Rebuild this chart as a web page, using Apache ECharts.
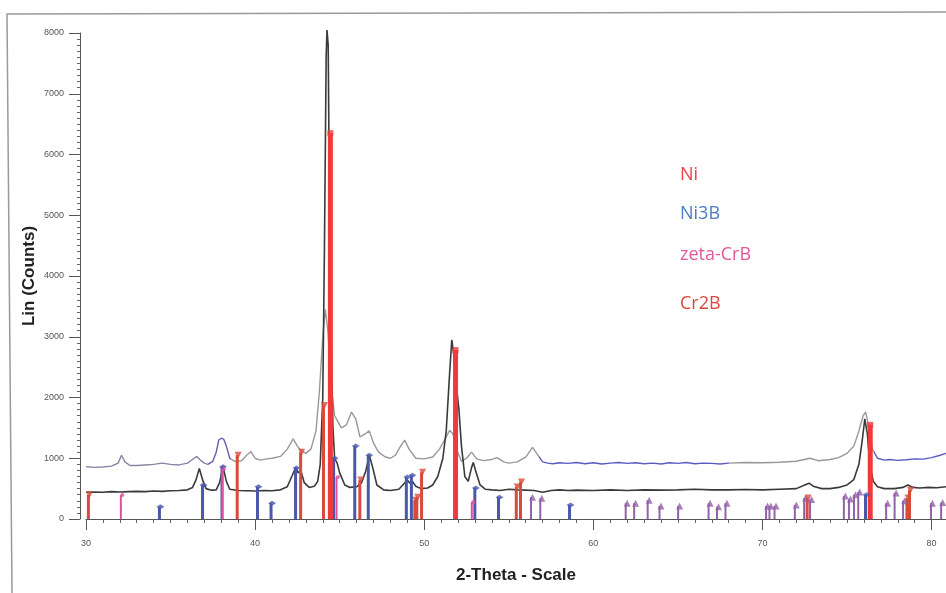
<!DOCTYPE html>
<html>
<head>
<meta charset="utf-8">
<script src="https://cdn.jsdelivr.net/npm/echarts@6/dist/echarts.min.js"></script>
<style>
html,body{margin:0;padding:0;background:#fff;}
#chart{width:946px;height:593px;}
</style>
</head>
<body>
<div id="chart"></div>
<script>
// ---- measured pattern (lower, dark trace) ----
const lowerX = [30.0,30.5,31.0,31.5,32.0,32.5,33.0,33.5,34.0,34.5,35.0,35.5,36.0,36.3,36.5,36.7,36.9,37.1,37.4,37.7,37.9,38.1,38.3,38.5,39.0,39.5,40.0,40.5,41.0,41.5,41.9,42.2,42.4,42.55,42.7,42.9,43.2,43.5,43.7,43.85,44.0,44.1,44.2,44.25,44.32,44.4,44.5,44.6,44.7,44.85,45.0,45.3,45.6,46.0,46.3,46.55,46.75,46.95,47.2,47.6,48.0,48.5,48.8,49.0,49.15,49.3,49.5,49.8,50.2,50.5,50.8,51.1,51.3,51.5,51.63,51.75,51.9,52.05,52.2,52.4,52.6,52.8,52.9,53.05,53.3,53.6,54.0,54.5,55.0,55.5,56.0,56.5,57.0,57.5,58.0,58.5,59.0,60.0,61.0,62.0,63.0,64.0,65.0,66.0,67.0,68.0,69.0,70.0,71.0,72.0,72.5,72.75,73.0,73.5,74.0,74.5,75.0,75.4,75.7,75.9,76.05,76.2,76.35,76.55,76.8,77.2,77.8,78.3,78.6,78.9,79.3,79.8,80.3,80.85];
const lowerY = [440,445,440,450,445,450,455,450,460,455,465,470,480,520,640,830,640,500,475,480,600,860,620,490,470,465,460,470,465,480,530,720,850,760,800,600,520,540,620,900,2000,4500,7600,8050,7800,5000,2800,1500,1000,920,760,560,520,530,600,800,1050,850,560,480,470,490,580,640,590,620,540,500,510,560,700,1000,1450,2400,2950,2700,2200,1800,1200,700,620,850,930,780,560,490,480,470,490,480,475,470,440,470,480,470,475,470,480,470,480,475,480,490,480,480,485,480,490,500,560,590,540,500,500,520,560,650,900,1300,1650,1400,900,620,530,500,500,520,560,520,510,520,515,530];

// ---- measured pattern (upper trace) ----
const upperX = [30.0,30.5,31.0,31.5,31.9,32.1,32.3,32.6,33.0,33.5,34.0,34.5,35.0,35.5,36.0,36.3,36.55,36.8,37.0,37.2,37.5,37.7,37.85,38.0,38.15,38.3,38.5,38.8,39.2,39.5,39.75,40.0,40.3,40.7,41.0,41.5,41.9,42.25,42.5,42.7,43.0,43.3,43.6,43.8,44.0,44.15,44.3,44.5,44.7,44.9,45.1,45.4,45.7,45.95,46.2,46.5,46.75,47.0,47.3,47.7,48.0,48.3,48.6,48.85,49.1,49.5,50.0,50.5,50.9,51.2,51.5,51.7,51.9,52.2,52.5,52.8,53.1,53.5,54.0,54.3,54.7,55.0,55.5,56.0,56.4,56.7,57.0,57.3,57.6,58.0,58.5,59.0,59.5,60.0,60.5,61.0,61.5,62.0,62.5,63.0,63.5,64.0,64.5,65.0,65.5,66.0,66.5,67.0,67.5,68.0,69.0,70.0,71.0,72.0,72.8,73.3,74.0,74.5,75.0,75.4,75.7,75.95,76.1,76.3,76.5,76.8,77.2,77.5,78.0,78.5,79.0,79.5,80.0,80.5,80.85];
const upperY = [860,850,855,870,920,1050,940,880,880,890,900,920,900,890,920,980,1030,960,920,900,950,1100,1300,1330,1310,1200,1000,950,960,1050,1110,1000,970,990,1000,1030,1150,1320,1200,1130,1080,1150,1450,2100,3000,3450,3100,2200,1700,1600,1500,1550,1760,1650,1350,1400,1450,1250,1100,1020,1000,1050,1200,1300,1150,1000,990,1020,1150,1300,1460,1400,1150,950,1000,1100,990,960,980,1010,940,920,940,1020,1180,1060,940,920,910,925,915,930,910,925,905,920,930,915,925,910,920,905,925,915,930,910,920,915,905,920,930,925,935,950,1000,960,980,1010,1080,1200,1450,1700,1760,1500,1150,1000,970,980,965,975,990,985,1010,1050,1080];

// ---- reference sticks ----
const niPos = [44.45, 51.85, 76.37];
const niH = [6350, 2780, 1550];
const ni3bPos = [34.4, 36.95, 38.1, 40.2, 41.0, 42.45, 44.7, 45.95, 46.75, 49.0, 49.3, 53.05, 54.45, 58.65, 76.15];
const ni3bH = [200, 560, 860, 530, 260, 840, 1000, 1200, 1050, 690, 720, 510, 360, 230, 400];
const zetaPos = [32.15, 38.15, 44.9, 52.9];
const zetaH = [395, 820, 690, 280];
const cr2bPos = [30.2, 39.0, 42.75, 44.1, 46.25, 49.5, 49.62, 49.9, 55.5, 55.75, 72.7, 78.6, 78.75];
const cr2bH = [395, 1050, 1100, 1870, 640, 310, 360, 770, 525, 610, 345, 345, 475];
const otherPos = [56.4, 56.95, 62.0, 62.5, 63.3, 64.0, 65.1, 66.9, 67.4, 67.9, 70.3, 70.5, 70.8, 72.0, 72.55, 72.9, 74.9, 75.2, 75.5, 75.75, 77.4, 77.9, 78.4, 80.05, 80.65];
const otherH = [360, 340, 260, 260, 310, 215, 215, 260, 200, 260, 215, 215, 215, 230, 345, 320, 380, 330, 400, 445, 260, 430, 300, 260, 270];

// ---- axis ticks ----
const xTicks = [30, 40, 50, 60, 70, 80];
const yTicks = [0, 1000, 2000, 3000, 4000, 5000, 6000, 7000, 8000];

const legendNames = ['Ni', 'Ni3B', 'zeta-CrB', 'Cr2B'];
const legendColors = ['#ee4040', '#4a7cc0', '#e0589c', '#d8463c'];

function pairs(xs, ys) { return xs.map((x, i) => [x, ys[i]]); }

function stickSeries(name, xs, ys, color, width, symbol, symSize, symRotate) {
  return [
    { name: name, type: 'bar', data: pairs(xs, ys), barWidth: width, barGap: '-100%',
      itemStyle: { color: color }, z: 4, silent: true, animation: false },
    { name: name + '-mk', type: 'scatter', data: pairs(xs, ys), symbol: symbol,
      symbolSize: symSize, symbolRotate: symRotate || 0,
      itemStyle: { color: color }, z: 5, silent: true, animation: false }
  ];
}

const chart = echarts.init(document.getElementById('chart'), null, { renderer: 'canvas' });

const labelFont = { fontFamily: 'Liberation Sans', fontSize: 9, color: '#555' };

const option = {
  backgroundColor: '#fff',
  animation: false,
  grid: { left: 86, right: 0, top: 33, bottom: 74, containLabel: false },
  xAxis: {
    type: 'value', min: 30, max: 80.85, interval: 10,
    name: '2-Theta - Scale', nameLocation: 'middle', nameGap: 48, nameMoveOverlap: false,
    nameTextStyle: { fontFamily: 'Liberation Sans', fontWeight: 'bold', fontSize: 17, color: '#222' },
    axisLine: { show: true, onZero: false, lineStyle: { color: '#555', width: 1 } },
    axisTick: { show: true, length: 11, lineStyle: { color: '#555' } },
    minorTick: { show: true, splitNumber: 10, length: 4, lineStyle: { color: '#666' } },
    axisLabel: Object.assign({ margin: 20, showMaxLabel: false,
      formatter: v => (xTicks.indexOf(v) >= 0 ? String(v) : '') }, labelFont),
    splitLine: { show: false }
  },
  yAxis: {
    type: 'value', min: 0, max: 8000, interval: 1000, offset: 6,
    name: 'Lin (Counts)', nameLocation: 'middle', nameGap: 42, nameMoveOverlap: false,
    nameTextStyle: { fontFamily: 'Liberation Sans', fontWeight: 'bold', fontSize: 17, color: '#222' },
    axisLine: { show: true, lineStyle: { color: '#555', width: 1 } },
    axisTick: { show: true, length: 11, lineStyle: { color: '#555' } },
    minorTick: { show: true, splitNumber: 10, length: 3, lineStyle: { color: '#666' } },
    axisLabel: Object.assign({ margin: 16,
      formatter: v => (yTicks.indexOf(v) >= 0 ? String(v) : '') }, labelFont),
    splitLine: { show: false }
  },
  visualMap: {
    show: false, type: 'piecewise', seriesIndex: 1, dimension: 0,
    pieces: [
      { lt: 37.2, color: '#8686a4' },
      { gte: 37.2, lt: 38.6, color: '#6c58b0' },
      { gte: 38.6, lt: 56.8, color: '#989898' },
      { gte: 56.8, lt: 68.0, color: '#5a5ac0' },
      { gte: 68.0, lt: 76.6, color: '#989898' },
      { gte: 76.6, color: '#5a5ac0' }
    ]
  },
  series: [
    { name: 'lower', type: 'line', data: pairs(lowerX, lowerY), showSymbol: false, clip: false,
      lineStyle: { color: '#3a3a3a', width: 1.6 }, z: 3, silent: true },
    { name: 'upper', type: 'line', data: pairs(upperX, upperY), showSymbol: false,
      lineStyle: { width: 1.4 }, z: 2, silent: true }
  ]
    .concat(stickSeries('Ni3B', ni3bPos, ni3bH, '#4a58ac', 3, 'diamond', [8, 5]))
    .concat(stickSeries('zeta-CrB', zetaPos, zetaH, '#e050a0', 2, 'circle', 4))
    .concat(stickSeries('other', otherPos, otherH, '#9462a8', 2, 'triangle', 7))
    .concat(stickSeries('Cr2B', cr2bPos, cr2bH, '#d84a3a', 3, 'triangle', 7, 180))
    .concat(stickSeries('Ni', niPos, niH, '#f03a3a', 5, 'rect', 6)),
  graphic: [
    { type: 'polyline', shape: { points: [[12, 593], [7, 14], [946, 12]] },
      style: { stroke: '#9a9a9a', lineWidth: 1.5, fill: null }, silent: true }
  ].concat(legendNames.map((n, i) => ({
    type: 'text', left: 680, top: [166, 205, 246, 295][i],
    style: { text: n, fill: legendColors[i], font: '18px "Open Sans"' }, silent: true
  })))
};
chart.setOption(option);
</script>
</body>
</html>
